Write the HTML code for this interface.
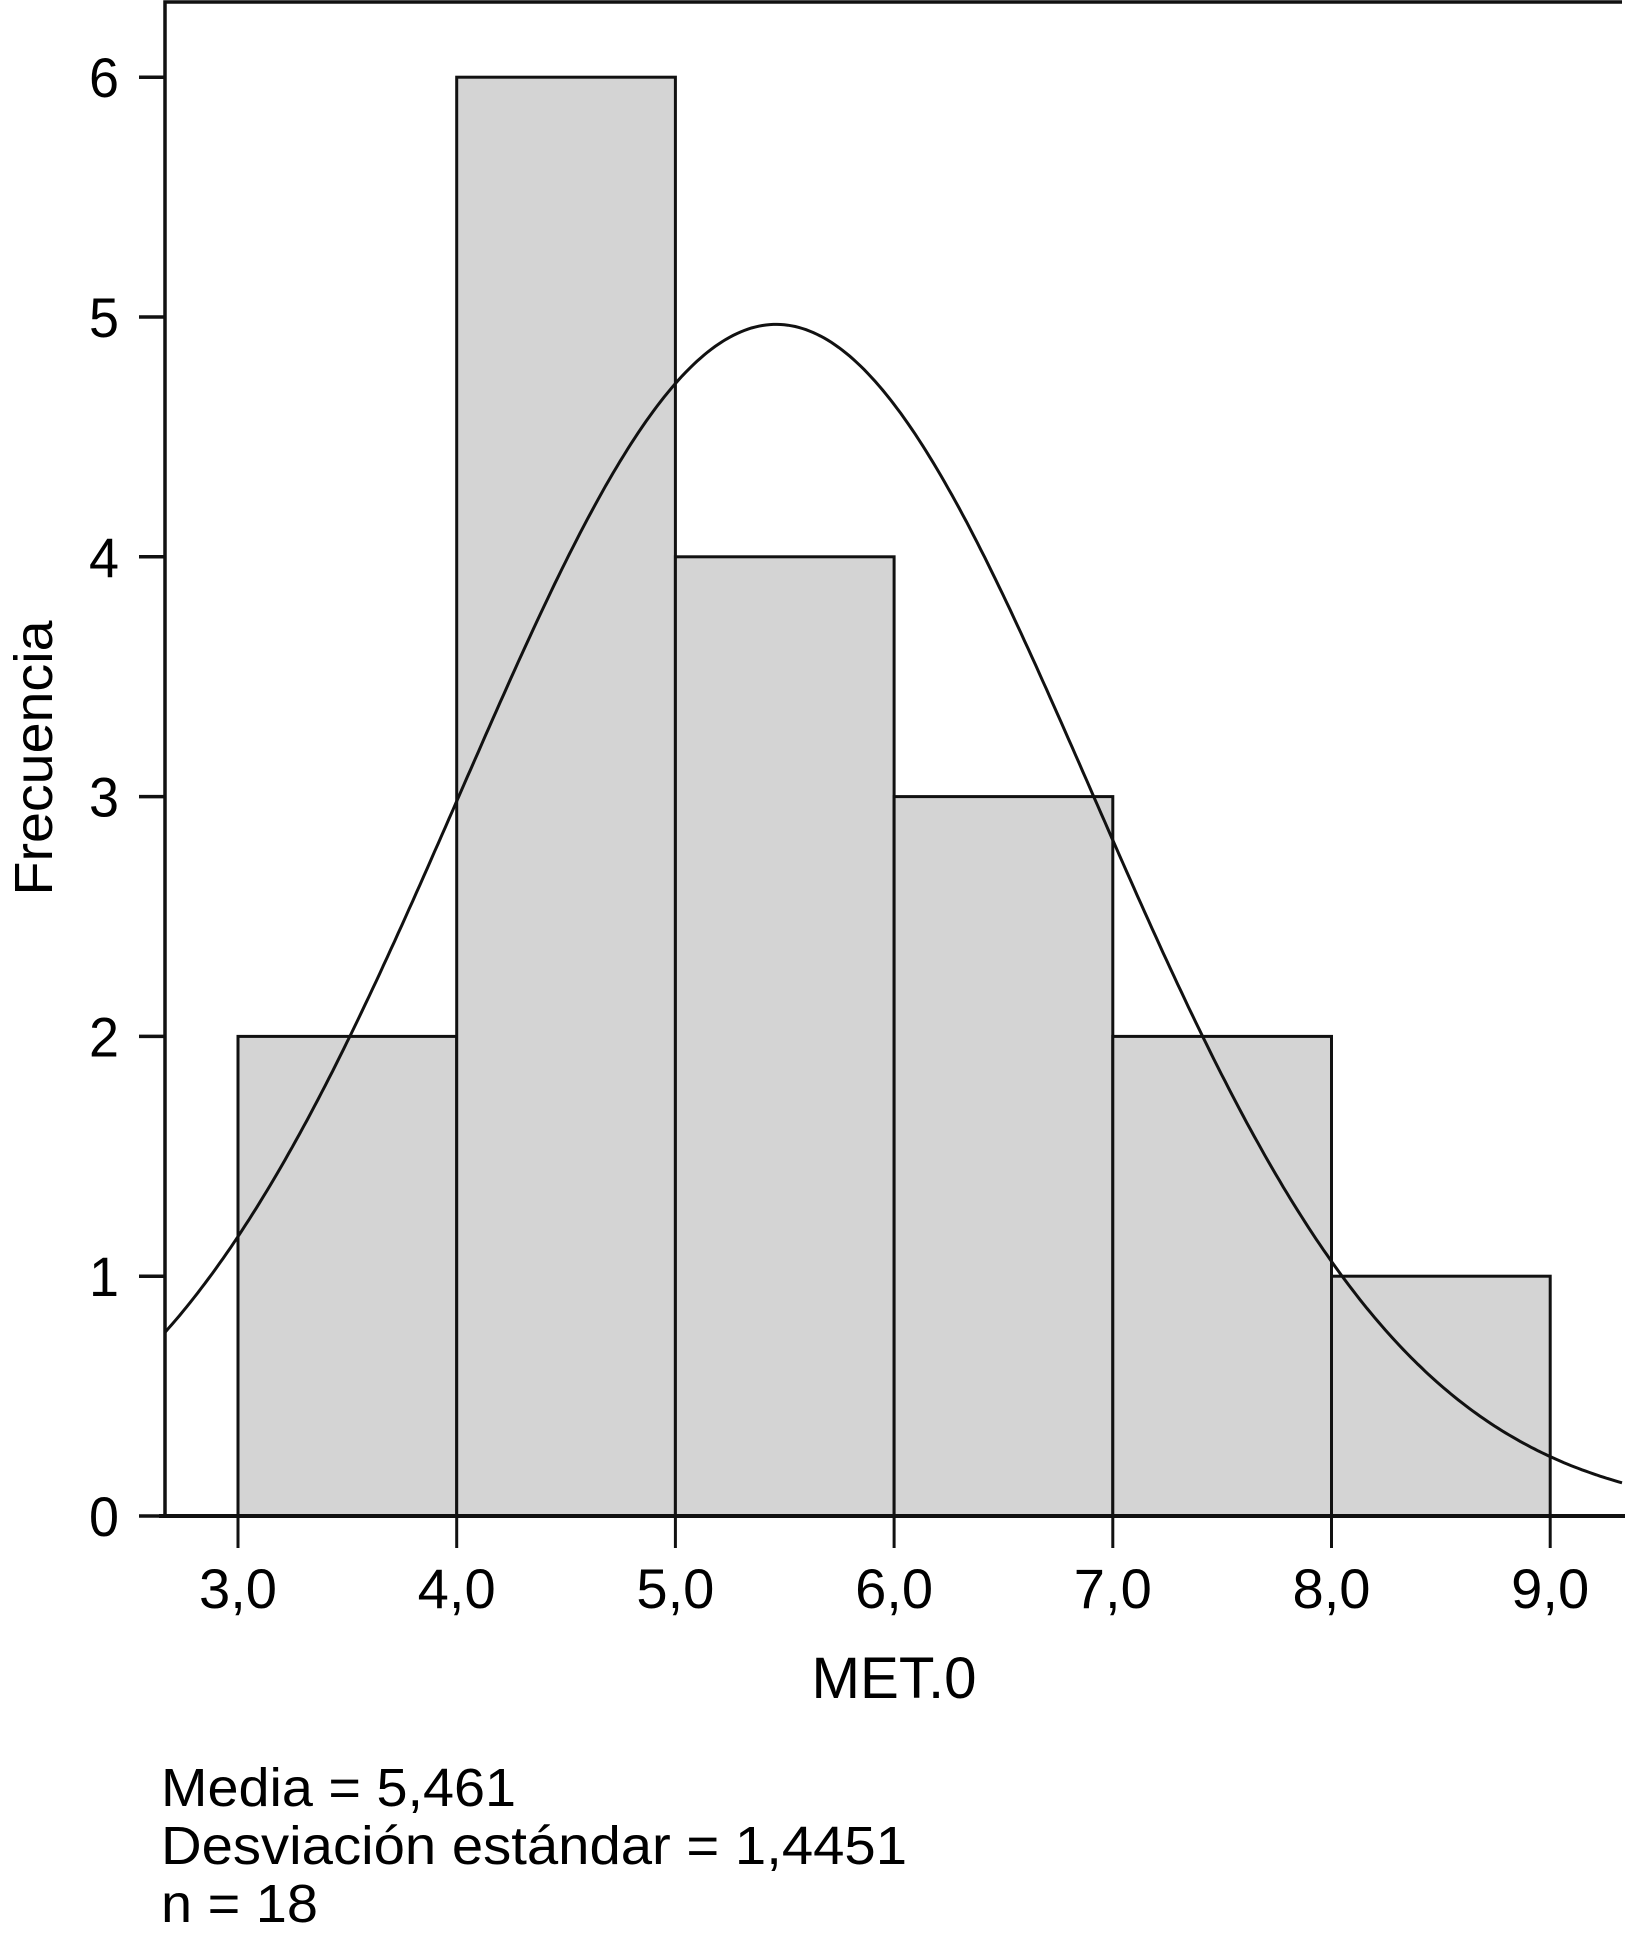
<!DOCTYPE html>
<html><head><meta charset="utf-8"><style>
html,body{margin:0;padding:0;background:#fff;}
svg{display:block;font-family:"Liberation Sans",sans-serif;}
</style></head><body>
<svg id="chart" width="1625" height="1942" viewBox="0 0 1625 1942" xmlns="http://www.w3.org/2000/svg">
<g id="bars"></g>
<g id="curve"></g>
<g id="axes"></g>
<text transform="translate(52,758) rotate(-90)" text-anchor="middle" font-size="54" textLength="275" lengthAdjust="spacingAndGlyphs">Frecuencia</text>
<text x="894" y="1698" text-anchor="middle" font-size="58" textLength="165" lengthAdjust="spacingAndGlyphs">MET.0</text>
<text x="161" y="1806" font-size="54" textLength="355" lengthAdjust="spacingAndGlyphs">Media = 5,461</text>
<text x="161" y="1864" font-size="54" textLength="746" lengthAdjust="spacingAndGlyphs">Desviación estándar = 1,4451</text>
<text x="161" y="1922" font-size="54" textLength="157" lengthAdjust="spacingAndGlyphs">n = 18</text>
</svg>
<script>
const binStarts = [3, 4, 5, 6, 7, 8];
const binWidth = 1;
const counts = [2, 6, 4, 3, 2, 1];
const xTicks = [3, 4, 5, 6, 7, 8, 9];
const xTickLabels = ["3,0","4,0","5,0","6,0","7,0","8,0","9,0"];
const yTicks = [0, 1, 2, 3, 4, 5, 6];
const meanVal = 5.461;
const sdVal = 1.4451;
const nVal = 18;

const NS = "http://www.w3.org/2000/svg";
const X0 = 165, X1 = 1622, Y0 = 1516, YT = 2;
const xs = v => 238 + (v - 3) * 218.7;
const ys = v => 1516 - v * 239.8;
function mk(tag, attrs, parent){const e=document.createElementNS(NS,tag);for(const k in attrs)e.setAttribute(k,attrs[k]);parent.appendChild(e);return e;}

const gb = document.getElementById('bars');
counts.forEach((c,i)=>{
  const r = mk('rect',{x:xs(binStarts[i]),y:ys(c),width:xs(binStarts[i]+binWidth)-xs(binStarts[i]),height:ys(0)-ys(c),fill:'#d4d4d4',stroke:'#111','stroke-width':3},gb);
  
  
});

const gc = document.getElementById('curve');
let d='';
const vmin=(X0-238)/218.7+3, vmax=(X1-238)/218.7+3;
for(let k=0;k<=400;k++){
  const v=vmin+(vmax-vmin)*k/400;
  const y=nVal*binWidth*Math.exp(-0.5*((v-meanVal)/sdVal)**2)/(sdVal*Math.sqrt(2*Math.PI));
  d+=(k?'L':'M')+xs(v).toFixed(1)+','+ys(y).toFixed(1);
}
const p = mk('path',{d:d,fill:'none',stroke:'#111','stroke-width':3},gc);



const ga = document.getElementById('axes');
const frame = mk('path',{d:`M${X0},${Y0}V${YT}H${X1}`,fill:'none',stroke:'#111','stroke-width':3.5},ga);


const xa = mk('line',{x1:X0-6,y1:Y0,x2:1625,y2:Y0,stroke:'#111','stroke-width':4},ga);


yTicks.forEach(t=>{
  const l=mk('line',{x1:139,y1:ys(t),x2:X0,y2:ys(t),stroke:'#111','stroke-width':3.5},ga);
  
  
  const tx=mk('text',{x:104,y:ys(t)+20,'text-anchor':'middle','font-size':56,textLength:30,lengthAdjust:'spacingAndGlyphs'},ga);
  tx.textContent=String(t);
  
  
});
xTicks.forEach((t,i)=>{
  const l=mk('line',{x1:xs(t),y1:Y0,x2:xs(t),y2:1548,stroke:'#111','stroke-width':3},ga);
  
  
  const tx=mk('text',{x:xs(t),y:1608,'text-anchor':'middle','font-size':56,textLength:78,lengthAdjust:'spacingAndGlyphs'},ga);
  tx.textContent=xTickLabels[i];
  
  
});
</script>
</body></html>
